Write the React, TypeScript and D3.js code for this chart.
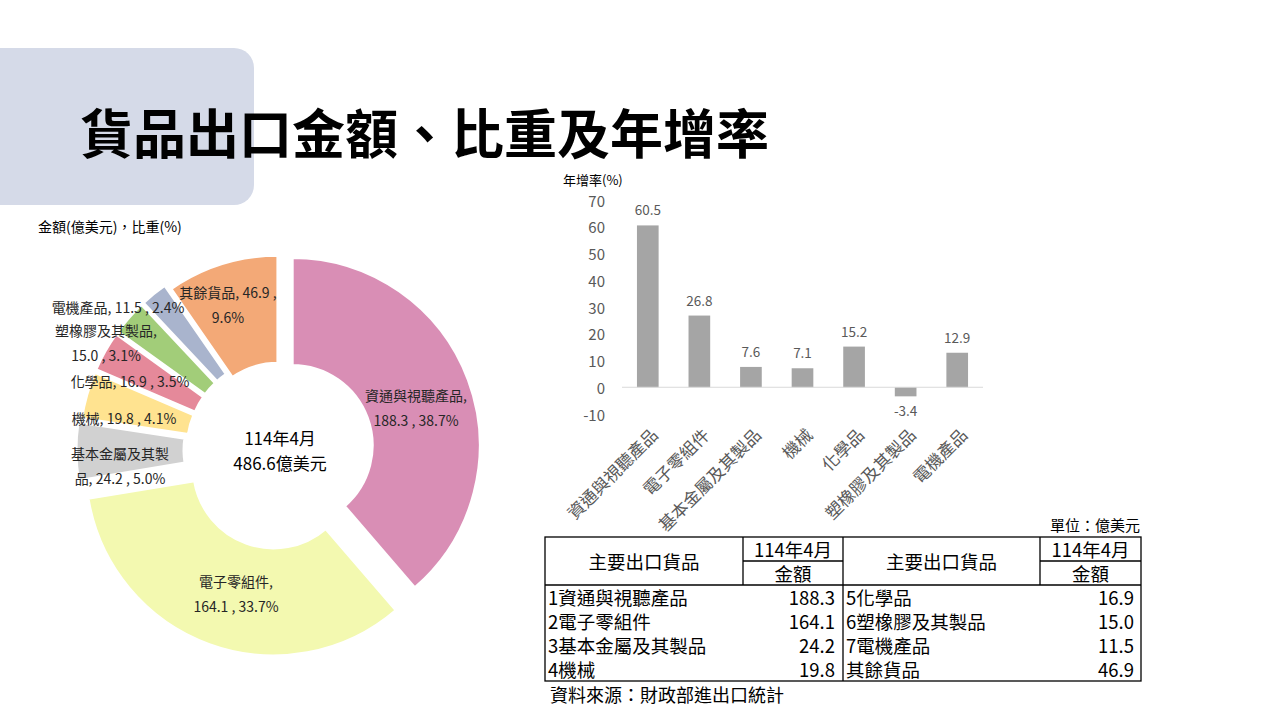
import { useMemo } from "react";
import * as d3 from "d3";

// 主要出口貨品 (114年4月)
const goods = ["資通與視聽產品", "電子零組件", "基本金屬及其製品", "機械", "化學品", "塑橡膠及其製品", "電機產品", "其餘貨品"];
const amounts = [188.3, 164.1, 24.2, 19.8, 16.9, 15.0, 11.5, 46.9];
const shares = [38.7, 33.7, 5.0, 4.1, 3.5, 3.1, 2.4, 9.6];
const sliceColors = ["#D98EB5", "#F3F9B0", "#D1D1D1", "#FFE390", "#E5899A", "#A2CD79", "#A9B4CD", "#F3A977"];

// 年增率
const growthGoods = ["資通與視聽產品", "電子零組件", "基本金屬及其製品", "機械", "化學品", "塑橡膠及其製品", "電機產品"];
const growth = [60.5, 26.8, 7.6, 7.1, 15.2, -3.4, 12.9];
const growthTicks = [70, 60, 50, 40, 30, 20, 10, 0, -10];

const tableLeft = ["1資通與視聽產品", "2電子零組件", "3基本金屬及其製品", "4機械"];
const tableLeftVal = [188.3, 164.1, 24.2, 19.8];
const tableRight = ["5化學品", "6塑橡膠及其製品", "7電機產品", "其餘貨品"];
const tableRightVal = [16.9, 15.0, 11.5, 46.9];

const totalLabel = ["114年4月", "486.6億美元"];

// donut layout
const CX = 280;
const CY = 450;
const R_OUT = 188;
const R_IN = 80;
const explode = [13, 19, 16, 13, 13, 13, 13, 7];
// label anchor + where to break the text into two lines
const labelPos: [number, number, number | null][] = [
  [416, 395, 8],
  [236, 581, 6],
  [120, 453, 7],
  [124, 418, null],
  [130, 381, null],
  [106, 330, 8],
  [118, 307, null],
  [228, 292, 12],
];

const FONT = "'Noto Sans CJK TC', 'Noto Sans', sans-serif";

export default function App() {
  const arcs = useMemo(() => {
    const pie = d3.pie<number>().sort(null).value((d) => d);
    return pie(amounts);
  }, []);
  const arcGen = d3.arc<d3.PieArcDatum<number>>().innerRadius(R_IN).outerRadius(R_OUT);

  // bar chart scales
  const y = d3.scaleLinear().domain([-10, 70]).range([414, 200]);
  const x = d3.scaleBand<string>().domain(growthGoods).range([622, 983]).paddingInner(0.58).paddingOuter(0.29);

  // table geometry
  const tX = [545, 743, 843, 1040, 1141];
  const tTop = 537;
  const tMid = 561;
  const tHead = 585;
  const tBottom = 681;
  const rowH = (tBottom - tHead) / 4;

  return (
    <svg width={1280} height={720} style={{ position: "absolute", left: 0, top: 0, background: "#fff" }} fontFamily={FONT}>
      {/* title block */}
      <rect x={-30} y={48} width={284} height={157} rx={20} fill="#D5DAE8" />
      <text x={80} y={131} fontSize={53} fontWeight="bold" dominantBaseline="central" fill="#000">
        貨品出口金額、比重及年增率
      </text>

      {/* donut */}
      <text x={38} y={226} fontSize={14} fill="#000" dominantBaseline="central">金額(億美元)，比重(%)</text>
      <g>
        {arcs.map((a, i) => {
          const mid = (a.startAngle + a.endAngle) / 2;
          const dx = Math.sin(mid) * explode[i];
          const dy = -Math.cos(mid) * explode[i];
          return (
            <path
              key={goods[i]}
              d={arcGen(a) ?? ""}
              transform={`translate(${CX + dx},${CY + dy})`}
              fill={sliceColors[i]}
              stroke="#fff"
              strokeWidth={3}
            />
          );
        })}
      </g>
      {goods.map((g, i) => {
        const full = `${g}, ${amounts[i].toFixed(1)} , ${shares[i].toFixed(1)}%`;
        const [lx, ly, br] = labelPos[i];
        const lines = br === null ? [full] : [full.slice(0, br).trim(), full.slice(br).trim()];
        return (
          <text key={g} x={lx} fontSize={14} fill="#262626" textAnchor="middle" dominantBaseline="central">
            {lines.map((l, j) => (
              <tspan key={j} x={lx} y={ly + j * 25}>{l}</tspan>
            ))}
          </text>
        );
      })}
      {totalLabel.map((t, i) => (
        <text key={t} x={CX} y={437 + i * 25} fontSize={17} fill="#000" textAnchor="middle" dominantBaseline="central">
          {t}
        </text>
      ))}

      {/* growth bar chart */}
      <text x={563} y={179} fontSize={13} fill="#000" dominantBaseline="central">年增率(%)</text>
      {growthTicks.map((t) => (
        <text key={t} x={605} y={y(t)} fontSize={15} fill="#595959" textAnchor="end" dominantBaseline="central">
          {t}
        </text>
      ))}
      {growthGoods.map((g, i) => {
        const v = growth[i];
        const bx = x(g) ?? 0;
        return (
          <g key={g}>
            <rect x={bx} y={Math.min(y(v), y(0))} width={x.bandwidth()} height={Math.abs(y(v) - y(0))} fill="#A5A5A5" />
            <text
              x={bx + x.bandwidth() / 2}
              y={v >= 0 ? y(v) - 16 : y(v) + 14}
              fontSize={13.5}
              fill="#595959"
              textAnchor="middle"
              dominantBaseline="central"
            >
              {v.toFixed(1)}
            </text>
          </g>
        );
      })}
      <line x1={622} x2={983} y1={y(0)} y2={y(0)} stroke="#D9D9D9" strokeWidth={1.2} />
      {growthGoods.map((g) => {
        const cx = (x(g) ?? 0) + x.bandwidth() / 2 + 6;
        return (
          <text
            key={g}
            transform={`translate(${cx},431) rotate(-45)`}
            fontSize={17}
            fill="#595959"
            textAnchor="end"
            dominantBaseline="central"
          >
            {g}
          </text>
        );
      })}

      {/* table */}
      <text x={1140} y={524} fontSize={15} fill="#000" textAnchor="end" dominantBaseline="central">單位：億美元</text>
      <g stroke="#000" strokeWidth={1.3} fill="none">
        <rect x={tX[0]} y={tTop} width={tX[4] - tX[0]} height={tBottom - tTop} />
        <line x1={tX[0]} x2={tX[4]} y1={tHead} y2={tHead} />
        <line x1={tX[1]} x2={tX[1]} y1={tTop} y2={tHead} />
        <line x1={tX[2]} x2={tX[2]} y1={tTop} y2={tBottom} />
        <line x1={tX[3]} x2={tX[3]} y1={tTop} y2={tHead} />
        <line x1={tX[1]} x2={tX[2]} y1={tMid} y2={tMid} />
        <line x1={tX[3]} x2={tX[4]} y1={tMid} y2={tMid} />
      </g>
      {[0, 2].map((c) => (
        <g key={c} fontSize={18.5} fill="#000" textAnchor="middle" dominantBaseline="central">
          <text x={(tX[c] + tX[c + 1]) / 2} y={(tTop + tHead) / 2}>主要出口貨品</text>
          <text x={(tX[c + 1] + tX[c + 2]) / 2} y={(tTop + tMid) / 2}>114年4月</text>
          <text x={(tX[c + 1] + tX[c + 2]) / 2} y={(tMid + tHead) / 2}>金額</text>
        </g>
      ))}
      {tableLeft.map((n, i) => (
        <g key={n} fontSize={18.5} fill="#000" dominantBaseline="central">
          <text x={548} y={tHead + rowH * (i + 0.5)}>{n}</text>
          <text x={835} y={tHead + rowH * (i + 0.5)} textAnchor="end">{tableLeftVal[i].toFixed(1)}</text>
          <text x={846} y={tHead + rowH * (i + 0.5)}>{tableRight[i]}</text>
          <text x={1134} y={tHead + rowH * (i + 0.5)} textAnchor="end">{tableRightVal[i].toFixed(1)}</text>
        </g>
      ))}
      <text x={550} y={694} fontSize={18} fill="#000" dominantBaseline="central">資料來源：財政部進出口統計</text>
    </svg>
  );
}
